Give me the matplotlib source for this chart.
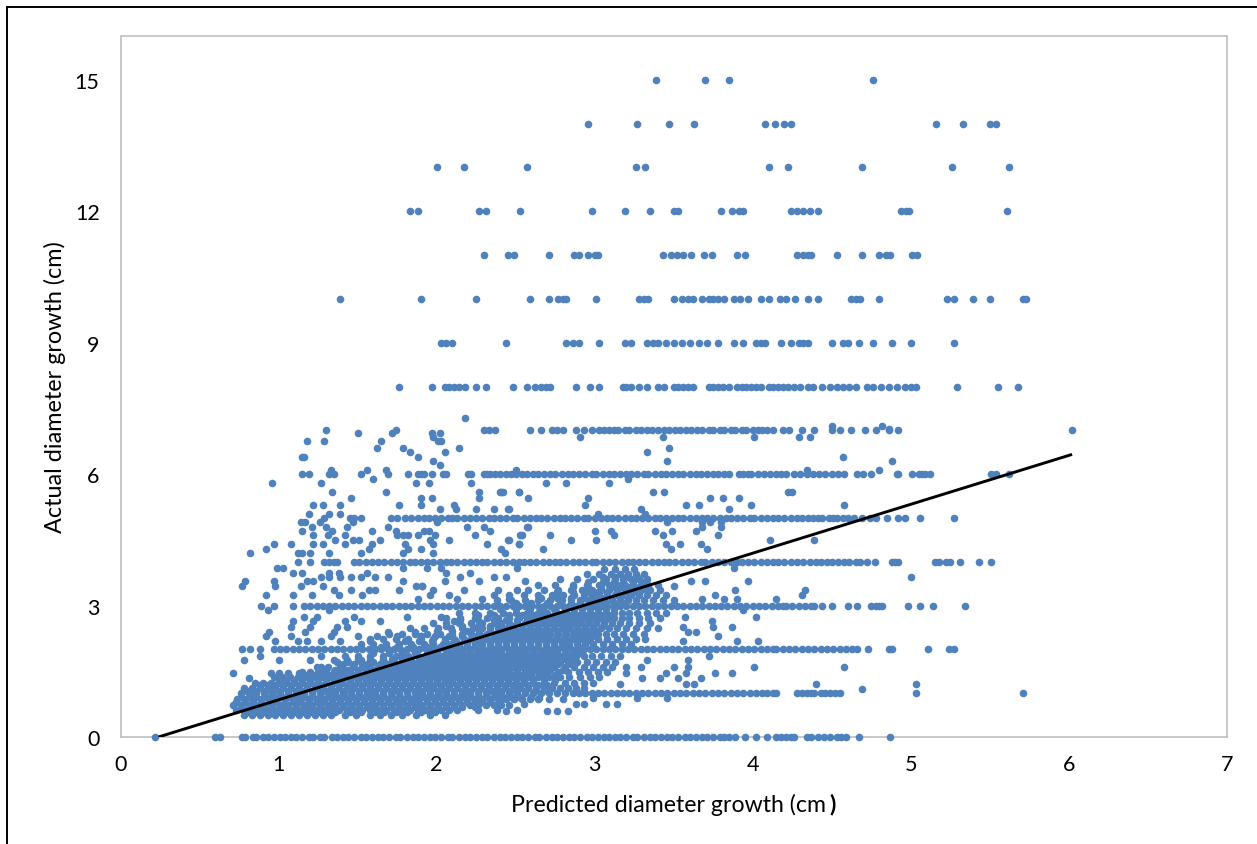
import matplotlib
matplotlib.use("Agg")
import matplotlib.pyplot as plt
from matplotlib.lines import Line2D

# all x values below are in hundredths of a cm
level_15 = [339, 370, 385, 476]
level_14 = [296, 327, 347, 363, 408, 414, 420, 424, 516, 533, 550, 554]
level_13 = [200, 217, 257, 326, 332, 410, 422, 469, 526, 562]
level_12 = [183, 188, 227, 231, 253, 298, 319, 335, 350, 353, 380, 387, 391, 394, 424, 428, 432, 436, 441, 494, 497, 499, 561]
level_11 = [230, 245, 249, 271, 287, 290, 296, 300, 302, 343, 348, 352, 356, 361, 369, 374, 390, 395, 428, 432, 435, 437, 453, 469, 480, 484, 487, 501, 504]
level_10 = [139, 190, 225, 259, 271, 277, 280, 282, 301, 328, 331, 334, 350, 355, 359, 362, 368, 372, 375, 378, 382, 388, 392, 397, 405, 410, 417, 421, 427, 435, 441, 462, 465, 468, 480, 523, 527, 539, 550, 571, 573]
level_9 = [203, 206, 210, 244, 282, 286, 290, 303, 319, 323, 333, 337, 340, 345, 350, 355, 360, 366, 371, 378, 388, 394, 402, 405, 408, 418, 424, 429, 432, 435, 450, 457, 460, 467, 476, 488, 500, 527]
level_8 = [176, 197, 205, 208, 211, 214, 218, 225, 231, 248, 257, 262, 266, 269, 272, 288, 297, 303, 318, 320, 323, 328, 333, 340, 344, 350, 353, 356, 359, 362, 372, 375, 378, 381, 385, 390, 393, 396, 399, 402, 405, 410, 413, 416, 419, 422, 426, 430, 435, 438, 444, 449, 453, 457, 461, 465, 472, 476, 481, 486, 491, 496, 500, 503, 529, 555, 568]
level_7 = [130, 174, 230, 233, 237, 259, 266, 273, 276, 280, 288, 293, 298, 303, 306, 309, 312, 315, 319, 322, 326, 329, 333, 336, 340, 344, 347, 351, 354, 358, 361, 365, 368, 372, 375, 379, 382, 386, 389, 393, 396, 400, 403, 406, 409, 413, 419, 423, 431, 439, 450, 455, 462, 471, 478, 486, 492, 602]
level_6 = [115, 119, 132, 135, 152, 169, 182, 188, 190, 192, 197, 204, 206, 220, 222, 230, 232, 234, 237, 240, 244, 247, 250, 254, 257, 261, 264, 268, 272, 275, 279, 283, 286, 290, 294, 298, 301, 305, 309, 312, 316, 320, 323, 327, 331, 334, 338, 342, 345, 349, 353, 356, 360, 364, 367, 371, 375, 378, 382, 385, 391, 394, 397, 399, 403, 407, 411, 415, 418, 421, 426, 430, 434, 438, 442, 446, 450, 454, 458, 466, 470, 475, 491, 492, 501, 505, 507, 509, 512, 551, 554, 562]
level_5 = [129, 145, 148, 152, 171, 175, 180, 184, 188, 192, 195, 199, 203, 207, 210, 213, 217, 221, 225, 229, 233, 236, 240, 244, 248, 251, 255, 259, 263, 266, 270, 274, 278, 281, 285, 289, 293, 296, 300, 304, 308, 311, 315, 319, 323, 326, 330, 334, 338, 341, 345, 349, 353, 356, 360, 364, 368, 371, 375, 379, 383, 386, 390, 394, 398, 401, 405, 409, 413, 416, 420, 424, 428, 431, 435, 438, 441, 444, 448, 451, 453, 457, 460, 464, 469, 474, 478, 485, 492, 496, 506, 527]
level_4 = [112, 120, 129, 132, 135, 137, 148, 151, 155, 159, 163, 167, 171, 175, 179, 183, 186, 190, 194, 198, 202, 206, 209, 213, 217, 221, 225, 229, 232, 236, 240, 244, 248, 252, 255, 259, 263, 267, 271, 275, 278, 282, 286, 290, 294, 298, 301, 305, 309, 313, 317, 321, 324, 328, 332, 336, 340, 344, 347, 351, 355, 359, 363, 367, 370, 374, 378, 382, 386, 390, 393, 397, 401, 405, 409, 413, 416, 420, 424, 428, 432, 436, 440, 443, 447, 450, 454, 458, 461, 465, 468, 472, 477, 488, 490, 492, 515, 518, 522, 525, 531, 543, 551]
level_3 = [89, 97, 109, 116, 120, 124, 128, 132, 136, 140, 144, 148, 152, 156, 160, 164, 168, 172, 176, 180, 184, 188, 192, 196, 200, 204, 208, 212, 216, 220, 224, 228, 232, 236, 240, 244, 248, 252, 256, 260, 264, 268, 272, 276, 280, 284, 288, 292, 296, 300, 304, 308, 312, 316, 320, 324, 328, 332, 336, 340, 344, 348, 352, 356, 360, 364, 368, 372, 376, 380, 384, 388, 392, 396, 400, 404, 408, 412, 416, 419, 421, 425, 429, 433, 437, 439, 444, 450, 460, 466, 475, 478, 480, 482, 498, 506, 514, 534]
level_2 = [77, 82, 88, 97, 101, 105, 109, 113, 117, 121, 125, 129, 133, 137, 141, 145, 149, 153, 157, 161, 165, 169, 173, 177, 181, 185, 189, 193, 197, 201, 205, 209, 213, 217, 221, 225, 229, 233, 237, 241, 245, 249, 253, 257, 261, 265, 269, 273, 277, 281, 285, 289, 293, 297, 301, 305, 309, 313, 317, 321, 325, 329, 333, 337, 341, 345, 349, 353, 357, 361, 365, 369, 373, 377, 381, 385, 389, 393, 397, 401, 405, 409, 413, 415, 419, 423, 427, 431, 435, 439, 443, 447, 451, 455, 459, 463, 466, 473, 486, 488, 511, 524, 527]
level_1 = [76, 81, 86, 91, 96, 101, 106, 111, 116, 121, 126, 131, 136, 141, 146, 151, 156, 161, 166, 171, 176, 181, 186, 191, 196, 201, 206, 211, 216, 221, 226, 231, 236, 241, 246, 251, 256, 261, 266, 271, 276, 281, 286, 290, 294, 298, 302, 306, 310, 314, 318, 322, 326, 330, 334, 338, 342, 346, 350, 354, 358, 362, 366, 370, 374, 378, 382, 386, 390, 394, 398, 402, 406, 409, 413, 415, 428, 431, 434, 437, 439, 443, 446, 449, 452, 455, 503, 571]
level_0 = [22, 60, 63, 77, 79, 84, 86, 90, 93, 97, 101, 104, 108, 111, 115, 119, 122, 126, 129, 134, 137, 141, 144, 148, 152, 155, 159, 163, 166, 170, 174, 177, 181, 185, 188, 192, 196, 199, 203, 207, 210, 214, 218, 221, 225, 229, 232, 236, 240, 243, 247, 251, 254, 258, 262, 265, 269, 273, 276, 280, 284, 287, 291, 295, 298, 302, 306, 309, 313, 316, 320, 324, 327, 331, 335, 338, 342, 346, 349, 353, 357, 360, 364, 368, 371, 375, 379, 382, 385, 389, 395, 402, 409, 415, 418, 421, 424, 426, 434, 437, 441, 445, 449, 453, 456, 459, 467, 487]

# scattered points between the whole-number levels, y -> x values
between_y = [7.28, 7.09, 7.03, 6.94, 6.85, 6.75, 6.6, 6.5, 6.4, 6.3, 6.2, 6.1, 5.9, 5.8, 5.6, 5.45, 5.3, 5.2, 5.1,
             4.9, 4.8, 4.7, 4.6, 4.5, 4.4, 4.3, 4.2, 3.85, 3.75, 3.65, 3.55, 3.45, 3.35, 3.25, 3.15,
             2.9, 2.75, 2.65, 2.5, 2.4, 2.3, 2.2, 1.85, 1.75, 1.6, 1.45, 1.35, 1.2, 1.1, 0.9, 0.75, 0.6]
between_x = [
    [218], [482, 450], [486], [150, 172, 197, 202], [198, 291, 343, 401, 429, 436], [201, 203, 129, 118, 165], [214, 179, 162, 347], [205, 183, 333], [115, 116, 188, 457], [198, 346, 488], [202], [133, 156, 168, 250, 434, 480],
    [160, 321], [96, 127, 187, 195, 222, 269, 282, 309], [134, 168, 227, 240, 242, 252, 241, 252, 337, 344, 422, 425], [146, 190, 197, 227, 258, 296, 373, 391, 381], [122, 128, 139, 176, 190, 211, 294, 358, 366, 399, 458], [202, 212, 225, 236, 246, 245, 329, 385], [119, 132, 139, 302, 332],
    [126, 147, 200, 346, 373, 368, 380, 114, 117], [121, 130, 143, 169, 219, 230, 258, 257, 368, 380], [115, 134, 159, 174, 192, 195, 234, 300, 310, 338, 349, 364], [122, 131, 142, 175, 179, 182, 188, 199, 224, 254, 253, 272, 312, 343, 378], [136, 147, 151, 164, 196, 208, 246, 245, 285, 301, 411, 439], [97, 108, 122, 128, 142, 159, 180, 198, 232, 252, 252, 345, 354, 367], [92, 157, 182, 190, 241, 267, 348, 371], [82, 112, 115, 120, 132, 152, 179, 198, 243],
    [103, 388, 99, 179, 194, 203, 251], [109, 115, 138, 156, 206, 221, 132], [127, 132, 139, 146, 152, 161, 169, 215, 236, 244, 500], [79, 97, 118, 122, 179, 205, 227, 256, 361, 397, 370], [77, 98, 114, 191, 191, 128, 187, 350], [135, 146, 157, 161, 176, 198, 239, 217, 251, 333, 389, 433], [92, 109, 121, 138, 153, 196, 208, 236, 431, 376], [188, 213, 229, 246, 368, 382, 390, 415],
    [132, 93, 394], [116, 124, 148, 181, 203, 402, 357], [122, 109, 142, 152, 164, 211, 374], [108, 120, 137, 143, 375, 356, 387], [94, 117, 135, 169, 186, 359, 364], [92, 108, 133, 150, 162, 175, 190, 378], [98, 112, 118, 127, 139, 158, 403, 390, 356],
    [88, 127, 372], [78, 100, 120, 135, 143, 152, 359, 333], [127, 139, 320, 329, 350, 359, 401, 458], [71, 95, 100, 106, 113, 320, 358, 376, 387, 345], [81, 341, 353, 367, 330], [316, 363, 358, 440, 503], [469], [299, 327, 346, 265], [288, 293, 255, 314, 307], [283, 270, 276, 244]]

# the dense cloud around the fitted line, y -> x values
cloud_y = [0.5, 0.62, 0.74, 0.86, 1.12, 1.24, 1.36, 1.48, 1.6, 1.72, 1.84, 2.12, 2.24, 2.36, 2.48, 2.6, 2.72, 2.84, 3.12, 3.24, 3.36, 3.48, 3.6, 3.72, 3.84]
cloud_x = [
    [78, 83, 88, 93, 98, 103, 108, 113, 118, 123, 128, 133, 142, 149, 158, 164, 171, 178, 187, 196, 205],
    [73, 78, 83, 88, 93, 98, 103, 108, 113, 118, 123, 128, 133, 138, 143, 148, 153, 158, 163, 168, 173, 178, 183, 188, 193, 198, 203, 208, 213, 226, 238, 251],
    [71, 76, 81, 86, 91, 96, 101, 106, 111, 116, 121, 126, 131, 136, 141, 146, 151, 156, 161, 166, 171, 176, 181, 186, 191, 196, 201, 206, 211, 216, 221, 226, 231, 236, 241, 246],
    [74, 79, 84, 89, 94, 99, 104, 109, 114, 119, 124, 129, 134, 139, 144, 149, 154, 159, 164, 169, 174, 179, 184, 189, 194, 199, 204, 209, 214, 219, 224, 229, 234, 239, 244, 249, 254, 259, 264, 271, 280],
    [78, 83, 88, 93, 98, 103, 108, 113, 118, 123, 128, 133, 138, 143, 148, 153, 158, 163, 168, 173, 178, 183, 188, 193, 198, 203, 208, 213, 218, 223, 228, 233, 238, 243, 248, 253, 258, 263, 268, 273, 278, 283, 288, 293],
    [85, 90, 95, 100, 105, 110, 115, 120, 125, 130, 135, 140, 145, 150, 155, 160, 165, 170, 175, 180, 185, 190, 195, 200, 205, 210, 215, 220, 225, 230, 235, 240, 245, 250, 255, 261, 268, 274, 281, 287, 293, 299],
    [97, 102, 107, 112, 117, 122, 127, 132, 137, 142, 147, 152, 157, 162, 167, 172, 177, 182, 187, 192, 197, 202, 207, 212, 217, 222, 227, 232, 237, 242, 247, 252, 258, 264, 271, 278, 284, 291, 297, 303],
    [115, 120, 125, 130, 135, 140, 145, 150, 155, 160, 165, 170, 175, 180, 185, 190, 195, 200, 205, 210, 215, 220, 225, 230, 235, 240, 245, 251, 257, 264, 270, 277, 283, 290, 296, 302, 308],
    [124, 131, 140, 147, 153, 158, 163, 168, 173, 178, 183, 188, 193, 198, 203, 208, 213, 218, 223, 228, 233, 238, 243, 248, 253, 258, 263, 268, 274, 281, 287, 293, 299, 305, 311],
    [137, 144, 152, 160, 167, 173, 178, 183, 188, 193, 198, 203, 208, 213, 218, 223, 228, 233, 238, 243, 248, 253, 258, 263, 268, 273, 278, 283, 289, 295, 301, 307, 313],
    [142, 150, 158, 166, 174, 182, 188, 193, 198, 203, 208, 213, 218, 223, 228, 233, 238, 243, 248, 253, 258, 263, 268, 273, 278, 283, 288, 293, 298, 304, 310, 316],
    [152, 160, 168, 176, 184, 192, 198, 204, 209, 214, 219, 224, 229, 234, 239, 244, 249, 254, 259, 264, 269, 274, 279, 284, 289, 294, 299, 305, 311, 317, 323],
    [158, 166, 174, 182, 190, 198, 205, 211, 217, 222, 227, 232, 237, 242, 247, 252, 257, 262, 267, 272, 277, 282, 287, 292, 297, 302, 308, 314, 320, 326, 332],
    [170, 178, 186, 194, 202, 210, 216, 222, 227, 232, 237, 242, 247, 252, 257, 262, 267, 272, 277, 282, 287, 292, 297, 302, 307, 312, 318, 324, 331],
    [183, 192, 201, 209, 216, 223, 229, 234, 239, 244, 249, 254, 259, 264, 269, 274, 279, 284, 289, 294, 299, 304, 309, 314, 320, 326, 333, 340],
    [198, 206, 214, 222, 229, 236, 241, 246, 251, 256, 261, 266, 271, 276, 281, 286, 291, 296, 301, 306, 311, 316, 322, 328, 335],
    [206, 215, 224, 232, 239, 246, 252, 257, 262, 267, 272, 277, 282, 287, 292, 297, 302, 307, 312, 317, 322, 328, 334, 341],
    [214, 224, 234, 242, 250, 257, 264, 270, 276, 282, 287, 292, 297, 302, 307, 312, 317, 322, 327, 333, 339, 345],
    [238, 247, 256, 264, 272, 279, 285, 291, 296, 301, 306, 311, 316, 321, 326, 331, 337, 343, 350],
    [246, 255, 264, 273, 280, 287, 293, 298, 303, 308, 313, 318, 323, 328, 333, 339, 345],
    [258, 268, 277, 285, 292, 298, 304, 309, 314, 319, 324, 329, 335, 341],
    [264, 275, 286, 295, 303, 309, 314, 319, 324, 329, 334, 340],
    [278, 289, 299, 307, 313, 318, 323, 328, 333],
    [295, 303, 310, 316, 321, 326, 331],
    [306, 313, 319, 325]]

# second set of cloud rows, sits in the holes of the first set
fill_y = [0.56, 0.68, 0.8, 0.92, 1.06, 1.18, 1.3, 1.42, 1.54, 1.66, 1.78, 1.92, 2.06, 2.18, 2.3, 2.42, 2.54, 2.66, 2.78, 2.92, 3.06, 3.18, 3.3, 3.42, 3.54, 3.66]
fill_x = [
    [80, 85, 91, 96, 101, 106, 111, 116, 121, 126, 131, 136, 145, 152, 161, 167, 174, 181, 190, 199],
    [76, 81, 86, 91, 96, 101, 105, 111, 116, 120, 126, 131, 136, 141, 146, 151, 156, 160, 166, 171, 176, 181, 186, 191, 196, 201, 206, 211, 216, 224],
    [73, 79, 84, 89, 94, 98, 104, 109, 113, 119, 124, 129, 134, 139, 144, 149, 154, 159, 164, 169, 174, 179, 184, 188, 194, 199, 204, 209, 214, 219, 224, 229, 234, 240],
    [76, 81, 86, 92, 97, 102, 107, 112, 117, 122, 127, 132, 137, 142, 147, 152, 157, 162, 167, 172, 177, 182, 187, 192, 197, 202, 207, 212, 217, 222, 227, 232, 237, 242, 247, 252, 260],
    [80, 86, 91, 95, 100, 106, 111, 115, 121, 126, 130, 136, 141, 145, 151, 156, 160, 166, 171, 175, 181, 186, 190, 196, 201, 205, 211, 216, 220, 226, 231, 235, 241, 246, 250, 256, 262, 270],
    [88, 93, 98, 103, 108, 113, 118, 123, 128, 133, 138, 143, 148, 153, 158, 163, 168, 173, 178, 183, 188, 193, 198, 203, 208, 213, 218, 223, 228, 233, 238, 243, 248, 253, 258, 264, 270],
    [100, 105, 110, 115, 120, 125, 130, 135, 140, 145, 150, 155, 160, 165, 170, 175, 180, 185, 190, 195, 200, 205, 210, 215, 220, 225, 230, 235, 240, 245, 250, 255, 261, 268, 275],
    [118, 123, 128, 133, 138, 143, 148, 153, 158, 163, 168, 173, 178, 183, 188, 193, 198, 203, 208, 213, 218, 223, 228, 233, 238, 243, 248, 254, 260, 267, 275],
    [128, 136, 144, 150, 156, 161, 166, 171, 176, 181, 186, 191, 196, 201, 206, 211, 216, 221, 226, 231, 236, 241, 246, 251, 256, 261, 266, 272, 280],
    [141, 148, 156, 164, 170, 176, 181, 186, 191, 196, 201, 206, 211, 216, 221, 226, 231, 236, 241, 246, 251, 256, 261, 266, 271, 277, 285],
    [150, 158, 166, 172, 178, 184, 190, 195, 200, 205, 210, 215, 220, 225, 230, 235, 240, 245, 250, 255, 260, 265, 270, 275, 280, 285],
    [160, 170, 178, 186, 194, 200, 206, 211, 216, 221, 226, 231, 236, 241, 246, 251, 256, 261, 266, 271, 276, 281, 286, 291],
    [165, 175, 185, 194, 202, 208, 214, 219, 224, 229, 234, 239, 244, 249, 254, 259, 264, 269, 274, 279, 284, 290],
    [180, 189, 197, 205, 212, 218, 224, 229, 234, 239, 244, 249, 254, 259, 264, 269, 274, 279, 284, 289, 295],
    [190, 199, 208, 216, 224, 230, 236, 241, 246, 251, 256, 261, 266, 271, 276, 281, 286, 291, 296, 301],
    [200, 210, 219, 227, 234, 240, 246, 251, 256, 261, 266, 271, 276, 281, 286, 291, 296, 301],
    [206, 216, 226, 234, 241, 248, 254, 259, 264, 269, 274, 279, 284, 289, 294, 299, 305],
    [215, 226, 236, 244, 251, 258, 264, 270, 275, 280, 285, 290, 295, 300, 305, 310],
    [226, 236, 246, 254, 261, 268, 274, 280, 285, 290, 295, 300, 305, 310],
    [240, 250, 259, 267, 274, 281, 287, 292, 297, 302, 307, 312],
    [250, 260, 270, 278, 285, 291, 297, 302, 307, 312, 318],
    [266, 276, 285, 293, 300, 306, 311, 316, 321],
    [276, 286, 295, 302, 308, 314, 319, 325],
    [286, 296, 304, 311, 317, 322, 328],
    [296, 305, 312, 318, 324, 330],
    [305, 313, 320, 327]]

level_y = [15, 14, 13, 12, 11, 10, 9, 8, 7, 6, 5, 4, 3, 2, 1, 0]
level_x = [level_15, level_14, level_13, level_12, level_11, level_10, level_9, level_8,
           level_7, level_6, level_5, level_4, level_3, level_2, level_1, level_0]

fit_x = [0.24, 6.02]
fit_y = [0, 6.45]

x_ticks = [0, 1, 2, 3, 4, 5, 6, 7]
y_ticks = [0, 3, 6, 9, 12, 15]

xs = []
ys = []
for group_y, group_x in [(level_y, level_x), (between_y, between_x), (cloud_y, cloud_x), (fill_y, fill_x)]:
    for y, row in zip(group_y, group_x):
        for x in row:
            xs.append(x / 100)
            ys.append(y)

plt.rcParams['font.family'] = ['Lato', 'DejaVu Sans']

fig = plt.figure(figsize=(12.57, 8.45), dpi=100)
ax = fig.add_axes([120.5 / 1257, 1 - 738 / 845, (1227 - 120.5) / 1257, (738 - 37) / 845])

ax.scatter(xs, ys, s=30, color='#4F81BD', linewidths=0, clip_on=False, zorder=3)
ax.plot(fit_x, fit_y, color='black', linewidth=2.1, zorder=4, solid_capstyle='butt')

ax.set_xlim(0, 7)
ax.set_ylim(0, 16)
ax.set_xticks(x_ticks)
ax.set_yticks(y_ticks)
ax.tick_params(length=0, labelsize=15.5, labelcolor='black')
ax.tick_params(axis='x', pad=12)
ax.tick_params(axis='y', pad=15)
for side in ax.spines.values():
    side.set_color('#BFBFBF')
    side.set_linewidth(1.2)

fig.text(669 / 1257, 1 - 805 / 845, 'Predicted diameter growth (cm', fontsize=16.7, ha='center', va='center')
fig.text(833 / 1257, 1 - 805 / 845, ')', fontsize=16.7, fontweight='bold', ha='center', va='center')
fig.text(55 / 1257, 1 - 387 / 845, 'Actual diameter growth (cm)', fontsize=16.8, rotation=90, ha='center', va='center')

# black frame of the original figure
fig.add_artist(Line2D([7 / 1257, 7 / 1257], [0, 1 - 8 / 845], color='black', linewidth=1.4))
fig.add_artist(Line2D([7 / 1257, 1], [1 - 8 / 845, 1 - 8 / 845], color='black', linewidth=1.4))

fig.savefig('out.png', dpi=100)
